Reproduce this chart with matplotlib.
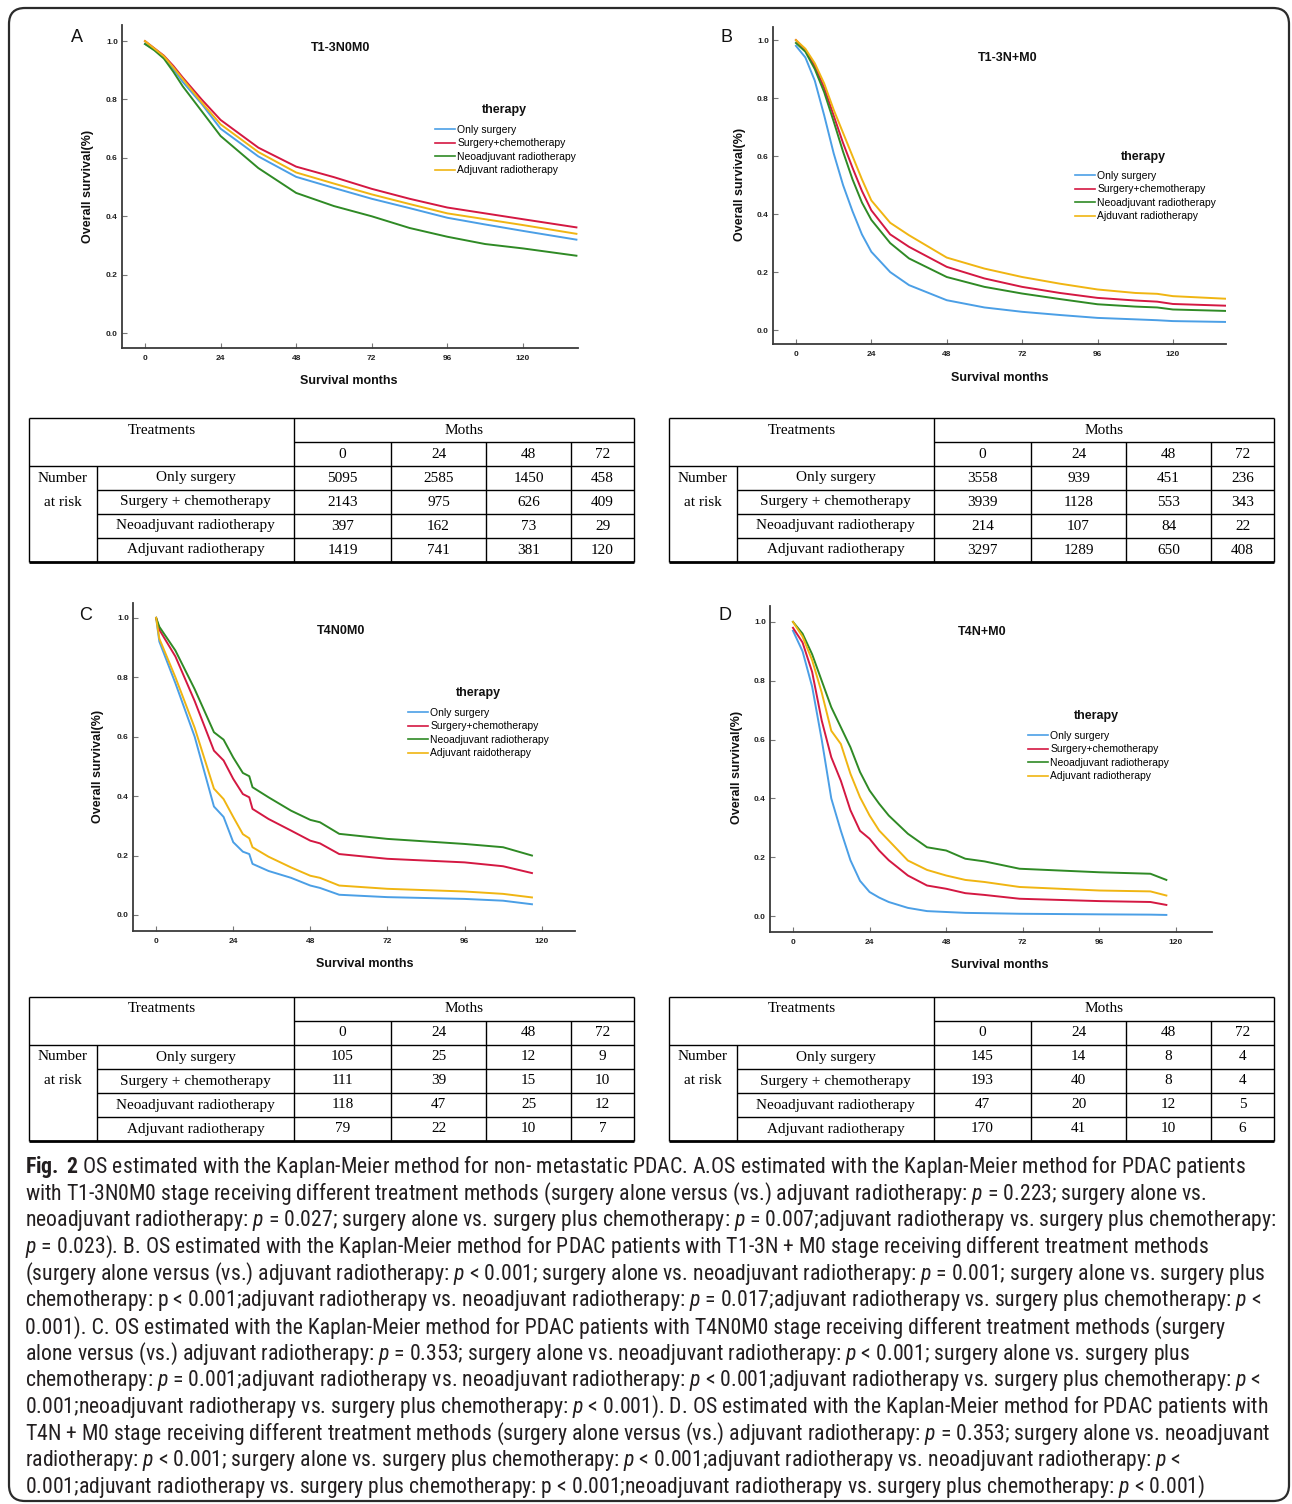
import matplotlib
matplotlib.use("Agg")
import matplotlib.pyplot as plt
from matplotlib.patches import FancyBboxPatch
from matplotlib import font_manager

W, H = 1292, 1504

# pick a narrow sans family for the caption if one is installed
installed = {f.name for f in font_manager.fontManager.ttflist}
cap_family = "Liberation Sans"
for cand in ["Liberation Sans Narrow", "DejaVu Sans Condensed", "Roboto Condensed", "Open Sans Condensed"]:
    if cand in installed:
        cap_family = cand
        break

plt.rcParams['font.family'] = ['Liberation Sans', 'DejaVu Sans']
plt.rcParams['mathtext.fontset'] = 'custom'
plt.rcParams['mathtext.rm'] = cap_family
plt.rcParams['mathtext.it'] = cap_family + ':italic'
plt.rcParams['mathtext.bf'] = cap_family + ':bold'

# ---------------- survival curves ----------------
colors = ["#4b9fe6", "#d41842", "#2f8a25", "#f0b512"]

months_A = [0, 3, 6, 9, 12, 18, 24, 36, 48, 60, 72, 84, 96, 108, 120, 137]
only_A = [0.99, 0.97, 0.945, 0.905, 0.86, 0.785, 0.70, 0.605, 0.535, 0.497, 0.46, 0.428, 0.395, 0.372, 0.35, 0.32]
chemo_A = [1.0, 0.975, 0.95, 0.915, 0.875, 0.80, 0.73, 0.635, 0.57, 0.534, 0.494, 0.46, 0.43, 0.41, 0.39, 0.362]
neo_A = [0.99, 0.968, 0.94, 0.895, 0.845, 0.76, 0.675, 0.565, 0.48, 0.435, 0.40, 0.36, 0.33, 0.305, 0.29, 0.265]
adj_A = [1.0, 0.974, 0.948, 0.91, 0.87, 0.79, 0.715, 0.62, 0.55, 0.512, 0.475, 0.442, 0.41, 0.39, 0.37, 0.34]

months_B = [0, 3, 6, 9, 12, 15, 18, 21, 24, 30, 36, 48, 60, 72, 84, 96, 108, 115, 120, 137]
only_B = [0.98, 0.94, 0.86, 0.74, 0.61, 0.50, 0.41, 0.33, 0.27, 0.20, 0.155, 0.103, 0.078, 0.063, 0.052, 0.042, 0.037, 0.034, 0.031, 0.028]
chemo_B = [1.0, 0.965, 0.91, 0.835, 0.74, 0.645, 0.56, 0.48, 0.413, 0.33, 0.287, 0.218, 0.178, 0.149, 0.128, 0.111, 0.102, 0.098, 0.09, 0.084]
neo_B = [0.99, 0.96, 0.90, 0.82, 0.72, 0.615, 0.52, 0.44, 0.38, 0.30, 0.247, 0.183, 0.149, 0.126, 0.107, 0.089, 0.081, 0.078, 0.071, 0.066]
adj_B = [1.0, 0.97, 0.92, 0.85, 0.76, 0.68, 0.60, 0.52, 0.447, 0.37, 0.327, 0.25, 0.212, 0.183, 0.16, 0.14, 0.128, 0.125, 0.117, 0.108]

months_C = [0, 1, 6, 12, 18, 21, 24, 27, 29, 30, 35, 42, 48, 51, 57, 72, 96, 108, 117]
only_C = [1.0, 0.92, 0.78, 0.60, 0.365, 0.33, 0.245, 0.213, 0.205, 0.172, 0.148, 0.125, 0.099, 0.091, 0.068, 0.060, 0.054, 0.048, 0.036]
chemo_C = [1.0, 0.96, 0.87, 0.72, 0.553, 0.52, 0.458, 0.407, 0.396, 0.357, 0.323, 0.284, 0.25, 0.241, 0.205, 0.189, 0.177, 0.164, 0.141]
neo_C = [1.0, 0.97, 0.89, 0.76, 0.615, 0.59, 0.53, 0.478, 0.467, 0.43, 0.396, 0.351, 0.32, 0.312, 0.273, 0.256, 0.239, 0.228, 0.20]
adj_C = [1.0, 0.93, 0.80, 0.63, 0.425, 0.39, 0.33, 0.272, 0.258, 0.228, 0.196, 0.16, 0.132, 0.125, 0.099, 0.088, 0.079, 0.071, 0.059]

months_D = [0, 3, 6, 9, 12, 15, 18, 21, 24, 27, 30, 36, 42, 48, 54, 60, 71, 96, 112, 117]
only_D = [0.97, 0.90, 0.78, 0.60, 0.40, 0.29, 0.19, 0.12, 0.082, 0.063, 0.048, 0.028, 0.017, 0.014, 0.011, 0.010, 0.008, 0.006, 0.005, 0.004]
chemo_D = [0.98, 0.93, 0.83, 0.665, 0.54, 0.46, 0.36, 0.29, 0.263, 0.223, 0.19, 0.138, 0.104, 0.093, 0.078, 0.072, 0.059, 0.051, 0.048, 0.038]
neo_D = [1.0, 0.96, 0.89, 0.80, 0.71, 0.642, 0.574, 0.49, 0.427, 0.382, 0.342, 0.28, 0.234, 0.223, 0.195, 0.186, 0.161, 0.149, 0.144, 0.123]
adj_D = [1.0, 0.95, 0.87, 0.76, 0.63, 0.585, 0.484, 0.404, 0.342, 0.291, 0.257, 0.189, 0.157, 0.138, 0.123, 0.116, 0.099, 0.087, 0.084, 0.07]

labels_A = ["Only surgery", "Surgery+chemotherapy", "Neoadjuvant radiotherapy", "Adjuvant radiotherapy"]
labels_B = ["Only surgery", "Surgery+chemotherapy", "Neoadjuvant radiotherapy", "Ajduvant radiotherapy"]
labels_C = ["Only surgery", "Surgery+chemotherapy", "Neoadjuvant radiotherapy", "Adjuvant raidotherapy"]
labels_D = ["Only surgery", "Surgery+chemotherapy", "Neoadjuvant radiotherapy", "Adjuvant radiotherapy"]

x_ticks = [0, 24, 48, 72, 96, 120]
y_ticks = [0.0, 0.2, 0.4, 0.6, 0.8, 1.0]

# ---------------- number at risk tables ----------------
table_months = ["0", "24", "48", "72"]
table_rows = ["Only surgery", "Surgery + chemotherapy", "Neoadjuvant radiotherapy", "Adjuvant radiotherapy"]
risk_A = [[5095, 2585, 1450, 458], [2143, 975, 626, 409], [397, 162, 73, 29], [1419, 741, 381, 120]]
risk_B = [[3558, 939, 451, 236], [3939, 1128, 553, 343], [214, 107, 84, 22], [3297, 1289, 650, 408]]
risk_C = [[105, 25, 12, 9], [111, 39, 15, 10], [118, 47, 25, 12], [79, 22, 10, 7]]
risk_D = [[145, 14, 8, 4], [193, 40, 8, 4], [47, 20, 12, 5], [170, 41, 10, 6]]

caption_lines = [
    r"$\mathbf{Fig.\ 2}$ OS estimated with the Kaplan-Meier method for non- metastatic PDAC. A.OS estimated with the Kaplan-Meier method for PDAC patients",
    r"with T1-3N0M0 stage receiving different treatment methods (surgery alone versus (vs.) adjuvant radiotherapy: $p$ = 0.223; surgery alone vs.",
    r"neoadjuvant radiotherapy: $p$ = 0.027; surgery alone vs. surgery plus chemotherapy: $p$ = 0.007;adjuvant radiotherapy vs. surgery plus chemotherapy:",
    r"$p$ = 0.023). B. OS estimated with the Kaplan-Meier method for PDAC patients with T1-3N + M0 stage receiving different treatment methods",
    r"(surgery alone versus (vs.) adjuvant radiotherapy: $p$ < 0.001; surgery alone vs. neoadjuvant radiotherapy: $p$ = 0.001; surgery alone vs. surgery plus",
    r"chemotherapy: p < 0.001;adjuvant radiotherapy vs. neoadjuvant radiotherapy: $p$ = 0.017;adjuvant radiotherapy vs. surgery plus chemotherapy: $p$ <",
    r"0.001). C. OS estimated with the Kaplan-Meier method for PDAC patients with T4N0M0 stage receiving different treatment methods (surgery",
    r"alone versus (vs.) adjuvant radiotherapy: $p$ = 0.353; surgery alone vs. neoadjuvant radiotherapy: $p$ < 0.001; surgery alone vs. surgery plus",
    r"chemotherapy: $p$ = 0.001;adjuvant radiotherapy vs. neoadjuvant radiotherapy: $p$ < 0.001;adjuvant radiotherapy vs. surgery plus chemotherapy: $p$ <",
    r"0.001;neoadjuvant radiotherapy vs. surgery plus chemotherapy: $p$ < 0.001). D. OS estimated with the Kaplan-Meier method for PDAC patients with",
    r"T4N + M0 stage receiving different treatment methods (surgery alone versus (vs.) adjuvant radiotherapy: $p$ = 0.353; surgery alone vs. neoadjuvant",
    r"radiotherapy: $p$ < 0.001; surgery alone vs. surgery plus chemotherapy: $p$ < 0.001;adjuvant radiotherapy vs. neoadjuvant radiotherapy: $p$ <",
    r"0.001;adjuvant radiotherapy vs. surgery plus chemotherapy: p < 0.001;neoadjuvant radiotherapy vs. surgery plus chemotherapy: $p$ < 0.001)",
]


def fx(px):
    return px / W


def fy(py):
    return 1 - py / H


fig = plt.figure(figsize=(W / 100, H / 100), dpi=100)
bg = fig.add_axes([0, 0, 1, 1])
bg.set_xlim(0, W)
bg.set_ylim(H, 0)
bg.axis("off")

# rounded frame round the whole figure
bg.add_patch(FancyBboxPatch((9, 8), 1280, 1493, boxstyle="round,pad=0,rounding_size=16",
                            fill=False, edgecolor="#2b2b2b", linewidth=1.6))

panels = [
    dict(letter="A", title="T1-3N0M0", box=(122, 25, 578, 348), xlim=(-7.3, 137.5), ylim=(-0.051, 1.055),
         months=months_A, curves=[only_A, chemo_A, neo_A, adj_A], labels=labels_A,
         letter_xy=(77, 38), title_xy=(341, 48), xlabel_xy=(349, 381), ylabel_xy=(88, 186),
         therapy_xy=(504, 110), legend_xy=(435, 125)),
    dict(letter="B", title="T1-3N+M0", box=(773, 27, 1226, 344), xlim=(-7.3, 136.9), ylim=(-0.048, 1.045),
         months=months_B, curves=[only_B, chemo_B, neo_B, adj_B], labels=labels_B,
         letter_xy=(727, 37), title_xy=(1008, 58), xlabel_xy=(1000, 378), ylabel_xy=(740, 184),
         therapy_xy=(1143, 157), legend_xy=(1075, 171)),
    dict(letter="C", title="T4N0M0", box=(133, 603, 575, 931), xlim=(-7.2, 130.4), ylim=(-0.054, 1.05),
         months=months_C, curves=[only_C, chemo_C, neo_C, adj_C], labels=labels_C,
         letter_xy=(86, 616), title_xy=(341, 631), xlabel_xy=(365, 964), ylabel_xy=(98, 766),
         therapy_xy=(478, 693), legend_xy=(408, 708)),
    dict(letter="D", title="T4N+M0", box=(770, 606, 1212, 932), xlim=(-7.2, 131.3), ylim=(-0.054, 1.054),
         months=months_D, curves=[only_D, chemo_D, neo_D, adj_D], labels=labels_D,
         letter_xy=(725, 616), title_xy=(982, 632), xlabel_xy=(1000, 965), ylabel_xy=(737, 767),
         therapy_xy=(1096, 716), legend_xy=(1028, 731)),
]

for p in panels:
    l, t, r, b = p["box"]
    ax = fig.add_axes([fx(l), fy(b), (r - l) / W, (b - t) / H])
    ax.patch.set_alpha(0)
    handles = []
    for vals, col in zip(p["curves"], colors):
        line, = ax.plot(p["months"], vals, color=col, linewidth=1.4, solid_joinstyle="round")
        handles.append(line)
    ax.set_xlim(*p["xlim"])
    ax.set_ylim(*p["ylim"])
    ax.set_xticks(x_ticks)
    ax.set_yticks(y_ticks)
    ax.set_yticklabels(["%.1f" % v for v in y_ticks])
    for side in ["top", "right"]:
        ax.spines[side].set_visible(False)
    for side in ["left", "bottom"]:
        ax.spines[side].set_color("#3a3a3a")
        ax.spines[side].set_linewidth(1.3)
    ax.tick_params(direction="in", length=3.5, width=0.8, color="#777777", labelsize=6,
                   labelcolor="#222222", pad=3)
    ax.tick_params(axis="x", pad=5)
    for lab in ax.get_xticklabels() + ax.get_yticklabels():
        lab.set_fontweight("bold")

    leg = ax.legend(handles, p["labels"], loc="upper left",
                    bbox_to_anchor=(fx(p["legend_xy"][0]), fy(p["legend_xy"][1])),
                    bbox_transform=fig.transFigure, frameon=False, fontsize=7.5,
                    handlelength=1.9, handletextpad=0.25, labelspacing=0.33,
                    borderpad=0, borderaxespad=0)
    for ln in leg.get_lines():
        ln.set_linewidth(1.2)

    fig.text(fx(p["therapy_xy"][0]), fy(p["therapy_xy"][1]), "therapy", fontsize=9,
             fontweight="bold", ha="center", va="center", color="#111111")
    fig.text(fx(p["letter_xy"][0]), fy(p["letter_xy"][1]), p["letter"], fontsize=13,
             ha="center", va="center", color="#111111")
    fig.text(fx(p["title_xy"][0]), fy(p["title_xy"][1]), p["title"], fontsize=9,
             fontweight="bold", ha="center", va="center", color="#111111")
    fig.text(fx(p["xlabel_xy"][0]), fy(p["xlabel_xy"][1]), "Survival months", fontsize=9,
             fontweight="bold", ha="center", va="center", color="#111111")
    fig.text(fx(p["ylabel_xy"][0]), fy(p["ylabel_xy"][1]), "Overall survival(%)", fontsize=9,
             fontweight="bold", ha="center", va="center", rotation=90, color="#111111")


def draw_table(x0, y0, counts):
    cols = [0, 68, 265, 362, 457, 542, 605]
    rh = 24
    kw = dict(color="black", linewidth=1.0, solid_capstyle="butt")
    xs = [x0 + c for c in cols]
    ys = [y0 + i * rh for i in range(7)]
    bg.plot([xs[0], xs[-1]], [ys[0], ys[0]], **kw)
    bg.plot([xs[0], xs[-1]], [ys[6], ys[6]], color="black", linewidth=2.0, solid_capstyle="butt")
    bg.plot([xs[0], xs[0]], [ys[0], ys[6]], **kw)
    bg.plot([xs[-1], xs[-1]], [ys[0], ys[6]], **kw)
    bg.plot([xs[2], xs[-1]], [ys[1], ys[1]], **kw)
    bg.plot([xs[0], xs[-1]], [ys[2], ys[2]], **kw)
    for k in (3, 4, 5):
        bg.plot([xs[1], xs[-1]], [ys[k], ys[k]], **kw)
    bg.plot([xs[1], xs[1]], [ys[2], ys[6]], **kw)
    bg.plot([xs[2], xs[2]], [ys[0], ys[6]], **kw)
    for k in (3, 4, 5):
        bg.plot([xs[k], xs[k]], [ys[1], ys[6]], **kw)

    tk = dict(fontsize=11, family="Liberation Serif", ha="center", va="center", color="black")
    bg.text((xs[0] + xs[2]) / 2, ys[0] + rh / 2, "Treatments", **tk)
    bg.text((xs[2] + xs[-1]) / 2, ys[0] + rh / 2, "Moths", **tk)
    for j, m in enumerate(table_months):
        bg.text((xs[2 + j] + xs[3 + j]) / 2, ys[1] + rh / 2, m, **tk)
    bg.text((xs[0] + xs[1]) / 2, ys[2] + rh / 2, "Number", **tk)
    bg.text((xs[0] + xs[1]) / 2, ys[3] + rh / 2, "at risk", **tk)
    for i, name in enumerate(table_rows):
        yc = ys[2 + i] + rh / 2
        bg.text((xs[1] + xs[2]) / 2, yc, name, **tk)
        for j, v in enumerate(counts[i]):
            bg.text((xs[2 + j] + xs[3 + j]) / 2, yc, str(v), **tk)


draw_table(29, 418, risk_A)
draw_table(669, 418, risk_B)
draw_table(29, 997, risk_C)
draw_table(669, 997, risk_D)

# caption: size chosen so that the widest line stays inside the frame
cap_texts = []
for i, line in enumerate(caption_lines):
    cap_texts.append(bg.text(25, 1167 + i * 26.67, line, fontsize=12, family=cap_family,
                             ha="left", va="center", color="#231f20"))
renderer = fig.canvas.get_renderer()
w_max = max(t.get_window_extent(renderer).width for t in cap_texts)
cap_size = 12 * 1248 / w_max
for t in cap_texts:
    t.set_fontsize(cap_size)

fig.savefig("out.png", dpi=100)
